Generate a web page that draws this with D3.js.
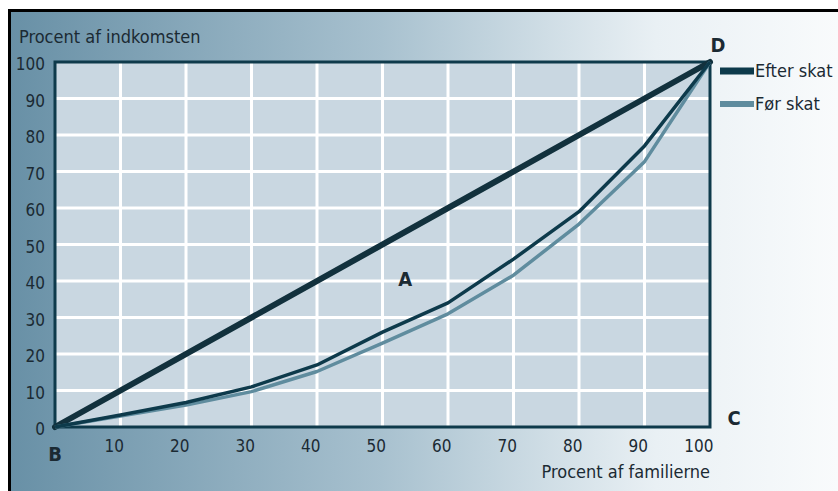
<!DOCTYPE html>
<html>
<head>
<meta charset="utf-8">
<script src="https://cdn.jsdelivr.net/npm/d3@7"></script>
<style>
  html, body { margin: 0; padding: 0; background: #fff; }
  svg text { font-family: "Liberation Sans Narrow", "DejaVu Sans Condensed", "Open Sans", sans-serif; fill: #1b2a33; }
</style>
</head>
<body>
<div id="chart"></div>
<script>
// Data
const families = [0, 10, 20, 30, 40, 50, 60, 70, 80, 90, 100];
const efterSkat = [0, 3.3, 6.7, 11, 17, 26, 34, 46, 59, 77, 100];
const forSkat = [0, 3, 6, 9.7, 15.2, 23, 31, 41.6, 55.6, 72.7, 100];
const equality = [0, 100];
const xTicks = [10, 20, 30, 40, 50, 60, 70, 80, 90, 100];
const yTicks = [0, 10, 20, 30, 40, 50, 60, 70, 80, 90, 100];

const svgWidth = 838;
const svgHeight = 491;

const marginLeft = 55;
const marginTop = 62;
const width = 655;
const height = 365;

const svg = d3
  .select("#chart")
  .append("svg")
  .attr("width", svgWidth)
  .attr("height", svgHeight);

// Background gradient
const defs = svg.append("defs");
const grad = defs
  .append("linearGradient")
  .attr("id", "bg")
  .attr("x1", "0%")
  .attr("x2", "100%")
  .attr("y1", "0%")
  .attr("y2", "0%");
grad.append("stop").attr("offset", "0%").attr("stop-color", "#6890a6");
grad.append("stop").attr("offset", "45%").attr("stop-color", "#a8c1cf");
grad.append("stop").attr("offset", "78%").attr("stop-color", "#e9f0f4");
grad.append("stop").attr("offset", "100%").attr("stop-color", "#f9fbfc");

svg
  .append("rect")
  .attr("x", 9)
  .attr("y", 10)
  .attr("width", svgWidth - 9)
  .attr("height", svgHeight - 10)
  .attr("fill", "url(#bg)");

// outer frame (top + left only)
svg
  .append("path")
  .attr("d", `M9.5,${svgHeight}V10.5H${svgWidth}`)
  .attr("fill", "none")
  .attr("stroke", "#000")
  .attr("stroke-width", 3);

// Scales
const xScale = d3.scaleLinear().domain([0, 100]).range([0, width]);
const yScale = d3.scaleLinear().domain([0, 100]).range([height, 0]);

const chart = svg
  .append("g")
  .attr("transform", `translate(${marginLeft},${marginTop})`);

chart
  .append("rect")
  .attr("width", width)
  .attr("height", height)
  .attr("fill", "#c9d7e1");

// Grid
chart
  .append("g")
  .selectAll("line")
  .data(xTicks.slice(0, -1))
  .join("line")
  .attr("x1", (d) => xScale(d))
  .attr("x2", (d) => xScale(d))
  .attr("y1", 0)
  .attr("y2", height)
  .attr("stroke", "#fff")
  .attr("stroke-width", 3);

chart
  .append("g")
  .selectAll("line")
  .data(yTicks.slice(1, -1))
  .join("line")
  .attr("x1", 0)
  .attr("x2", width)
  .attr("y1", (d) => yScale(d))
  .attr("y2", (d) => yScale(d))
  .attr("stroke", "#fff")
  .attr("stroke-width", 3);

// Plot frame
chart
  .append("rect")
  .attr("width", width)
  .attr("height", height)
  .attr("fill", "none")
  .attr("stroke", "#0e3a4b")
  .attr("stroke-width", 3);

// Lines
const line = d3
  .line()
  .x((d) => xScale(d[0]))
  .y((d) => yScale(d[1]));

chart
  .append("path")
  .datum(d3.zip(equality, equality))
  .attr("d", line)
  .attr("fill", "none")
  .attr("stroke", "#12313d")
  .attr("stroke-width", 6)
  .attr("stroke-linecap", "round");

chart
  .append("path")
  .datum(d3.zip(families, forSkat))
  .attr("d", line)
  .attr("fill", "none")
  .attr("stroke", "#5f8c9e")
  .attr("stroke-width", 3.5)
  .attr("stroke-linejoin", "round");

chart
  .append("path")
  .datum(d3.zip(families, efterSkat))
  .attr("d", line)
  .attr("fill", "none")
  .attr("stroke", "#0d3a4b")
  .attr("stroke-width", 3.5)
  .attr("stroke-linejoin", "round");

// Axes (labels only)
const xAxis = chart
  .append("g")
  .attr("transform", `translate(0,${height})`)
  .call(d3.axisBottom(xScale).tickValues(xTicks).tickSize(0).tickPadding(0));
xAxis.select(".domain").remove();
xAxis
  .selectAll(".tick text")
  .attr("text-anchor", "end")
  .attr("x", 3)
  .attr("y", 25)
  .attr("dy", 0)
  .style("font-size", "17px");

const yAxis = chart
  .append("g")
  .call(d3.axisLeft(yScale).tickValues(yTicks).tickSize(0).tickPadding(0));
yAxis.select(".domain").remove();
yAxis
  .selectAll(".tick text")
  .attr("text-anchor", "end")
  .attr("x", -10)
  .attr("dy", "0.45em")
  .style("font-size", "17px");

// Axis titles
svg
  .append("text")
  .attr("x", 19)
  .attr("y", 43)
  .style("font-size", "18px")
  .text("Procent af indkomsten");

svg
  .append("text")
  .attr("x", marginLeft + width)
  .attr("y", 478)
  .attr("text-anchor", "end")
  .style("font-size", "18px")
  .text("Procent af familierne");

// Corner letters
const letters = [
  { t: "A", x: 53, y: 40 },
  { t: "B", x: 0, y: 0 },
  { t: "C", x: 100, y: 0 },
  { t: "D", x: 100, y: 100 },
];
const letterOffsets = { A: [3, 5], B: [0, 34], C: [24, -2], D: [8, -10] };
chart
  .selectAll(".letter")
  .data(letters)
  .join("text")
  .attr("class", "letter")
  .attr("x", (d) => xScale(d.x) + letterOffsets[d.t][0])
  .attr("y", (d) => yScale(d.y) + letterOffsets[d.t][1])
  .style("font-size", "20px")
  .style("font-weight", "bold")
  .attr("text-anchor", "middle")
  .text((d) => d.t);

// Legend
const legend = svg.append("g").attr("transform", "translate(720,71)");
const legendItems = [
  { name: "Efter skat", color: "#0d3a4b", w: 7 },
  { name: "Før skat", color: "#5f8c9e", w: 6 },
];
const li = legend
  .selectAll("g")
  .data(legendItems)
  .join("g")
  .attr("transform", (d, i) => `translate(0,${i * 33})`);
li.append("line")
  .attr("x1", 0)
  .attr("x2", 34)
  .attr("stroke", (d) => d.color)
  .attr("stroke-width", (d) => d.w);
li.append("text")
  .attr("x", 35)
  .attr("dy", "0.35em")
  .style("font-size", "18px")
  .text((d) => d.name);
</script>
</body>
</html>
